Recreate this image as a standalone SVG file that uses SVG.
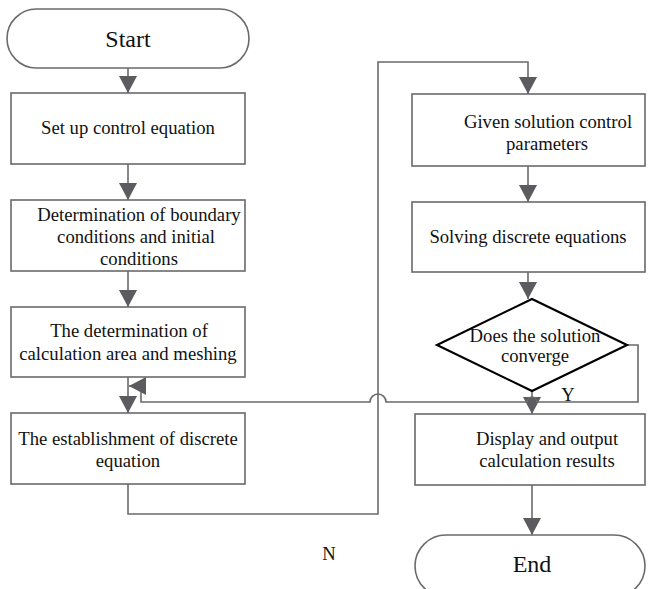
<svg xmlns="http://www.w3.org/2000/svg" width="648" height="589" viewBox="0 0 648 589">
<style>
.box{fill:#fff;stroke:#6a6a6a;stroke-width:1.6}
.dia{fill:#fff;stroke:#000;stroke-width:2.2}
.ln{fill:none;stroke:#6a6a6a;stroke-width:1.6}
.t{font-size:18.7px;fill:#111;text-anchor:middle}
.big{font-size:24px}
</style>
<defs>
<marker id="ah" viewBox="0 0 17 18" refX="17" refY="9" markerWidth="17" markerHeight="18" markerUnits="userSpaceOnUse" orient="auto">
<path d="M0,0 L17,9 L0,18 Z" fill="#5b5b60"/>
</marker>
</defs>
<g id="connectors">
<path class="ln" d="M128,68 V93" marker-end="url(#ah)"/>
<path class="ln" d="M128,164 V200" marker-end="url(#ah)"/>
<path class="ln" d="M128,271 V307" marker-end="url(#ah)"/>
<path class="ln" d="M128,377 V413" marker-end="url(#ah)"/>
<path class="ln" d="M128,484 V514 H378 V62 H528 V94" marker-end="url(#ah)"/>
<path class="ln" d="M528,166 V202" marker-end="url(#ah)"/>
<path class="ln" d="M528,272 V299" marker-end="url(#ah)"/>
<path class="ln" d="M532,391 V414" marker-end="url(#ah)"/>
<path class="ln" d="M627,345 H638 V402 H537 A5,5 0 0 0 527,402 H386 A8,8 0 0 0 370,402 H141 V386 H129" marker-end="url(#ah)"/>
<path class="ln" d="M532,485 V535" marker-end="url(#ah)"/>
</g>
<g font-family="Liberation Serif, Times New Roman, serif">
<g id="start">
<rect class="box" x="7" y="9" width="242" height="59" rx="29.5"/>
<text class="t big" x="128" y="47">Start</text>
</g>
<g id="n1">
<rect class="box" x="11" y="93" width="234" height="71"/>
<text class="t" x="128" y="134">Set up control equation</text>
</g>
<g id="n2">
<rect class="box" x="11" y="200" width="234" height="71"/>
<text class="t" x="139" y="221">Determination of boundary</text>
<text class="t" x="136" y="243">conditions and initial</text>
<text class="t" x="139" y="265">conditions</text>
</g>
<g id="n3">
<rect class="box" x="11" y="307" width="234" height="70"/>
<text class="t" x="129" y="337">The determination of</text>
<text class="t" x="128" y="360">calculation area and meshing</text>
</g>
<g id="n4">
<rect class="box" x="11" y="413" width="234" height="71"/>
<text class="t" x="128" y="445">The establishment of discrete</text>
<text class="t" x="128" y="467">equation</text>
</g>
<g id="n5">
<rect class="box" x="412" y="94" width="233" height="72"/>
<text class="t" x="548" y="128">Given solution control</text>
<text class="t" x="547" y="150">parameters</text>
</g>
<g id="n6">
<rect class="box" x="412" y="202" width="233" height="70"/>
<text class="t" x="528" y="243">Solving discrete equations</text>
</g>
<g id="n7">
<path class="dia" d="M532,299 L627,345 L532,391 L437,345 Z"/>
<text class="t" x="535" y="342">Does the solution</text>
<text class="t" x="535" y="362">converge</text>
</g>
<g id="n8">
<rect class="box" x="415" y="414" width="230" height="71"/>
<text class="t" x="547" y="445">Display and output</text>
<text class="t" x="547" y="467">calculation results</text>
</g>
<g id="end">
<rect class="box" x="415" y="535" width="230" height="62" rx="31"/>
<text class="t big" x="532" y="572">End</text>
</g>
<text class="t" x="568" y="401">Y</text>
<text class="t" x="329" y="560">N</text>
</g>
</svg>
